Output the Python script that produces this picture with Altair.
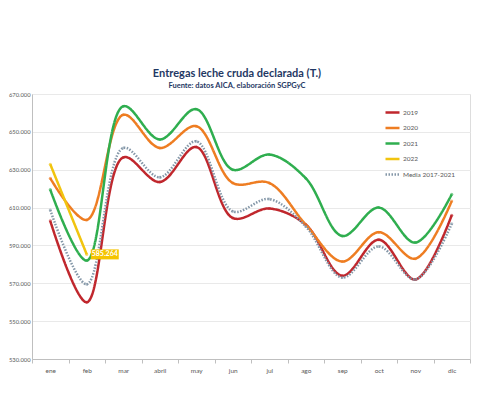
import altair as alt
import pandas as pd

meses = ["ene", "feb", "mar", "abril", "may", "jun", "jul", "ago", "sep", "oct", "nov", "dic"]
series = ["2019", "2020", "2021", "2022", "Media 2017-2021"]
colores = ["#c0272d", "#ee7d22", "#2fae4f", "#f1c40f", "#8497a8"]

v2019 = [603, 560, 636.5, 623.5, 642, 604.5, 609.5, 601, 574, 593, 572, 606]
v2020 = [625.5, 603.5, 659, 641.5, 653, 623, 623, 601, 581.5, 597, 583, 613.5]
v2021 = [619.5, 582, 663.5, 646, 662, 630, 638, 625.5, 595, 610, 591.5, 617]
v2022 = [632.9, 585.264]
vmedia = [608.7, 569.5, 641.5, 626, 645, 608, 614.5, 600, 573, 589.5, 572, 601.5]

etiqueta_mes = "feb"
etiqueta_valor = 585.264
etiqueta_texto = "585.264"

rows = []
for serie, vals in zip(series, [v2019, v2020, v2021, v2022, vmedia]):
    for m, v in zip(meses, vals):
        rows.append({"mes": m, "valor": v, "serie": serie})
df = pd.DataFrame(rows)
df_lab = pd.DataFrame([{"mes": etiqueta_mes, "valor": etiqueta_valor, "txt": etiqueta_texto}])

x_enc = alt.X(
    "mes:O",
    sort=meses,
    scale=alt.Scale(type="band", paddingInner=0, paddingOuter=0, domain=meses),
    bandPosition=0.5,
    axis=alt.Axis(
        title=None, tickBand="extent", labelAngle=0, labelFontSize=6.5,
        labelColor="#595959", domainColor="#bfbfbf", tickColor="#bfbfbf",
        tickSize=4, labelPadding=4, grid=False,
    ),
)
y_enc = alt.Y(
    "valor:Q",
    scale=alt.Scale(domain=[530, 670], nice=False, zero=False),
    axis=alt.Axis(
        title=None, values=list(range(530, 671, 20)),
        labelExpr="datum.value + '.000'", labelFontSize=5.8, labelColor="#595959",
        domainColor="#bfbfbf", ticks=False, gridColor="#e9e9e9", labelPadding=2,
    ),
)

leg = alt.Legend(
    title=None, orient="none", legendX=352, legendY=10, symbolType="stroke",
    symbolSize=196, symbolStrokeWidth=2.5, labelFontSize=6.5, labelColor="#595959",
    rowPadding=1.5, labelOffset=2,
)

lines = alt.Chart(df).mark_line(interpolate="catmull-rom").encode(
    x=x_enc,
    y=y_enc,
    color=alt.Color("serie:N", scale=alt.Scale(domain=series, range=colores), legend=leg),
    strokeDash=alt.StrokeDash(
        "serie:N",
        scale=alt.Scale(domain=series, range=[[1, 0], [1, 0], [1, 0], [1, 0], [1.5, 1.5]]),
        legend=leg,
    ),
    strokeWidth=alt.StrokeWidth(
        "serie:N", scale=alt.Scale(domain=series, range=[2.5, 2.5, 2.5, 2.5, 2]), legend=None
    ),
)

points = alt.Chart(df).mark_point(filled=True, size=9, opacity=0.6).encode(
    x=x_enc, y=y_enc,
    color=alt.Color("serie:N", scale=alt.Scale(domain=series, range=["#e88a8d", "#f7b27a", "#8fd6a0", "#f7dc6f", "#b8c4cf"]), legend=None),
)

box = alt.Chart(df_lab).mark_point(
    shape="M-1.4,-0.5L1.4,-0.5L1.4,0.5L-1.4,0.5Z", size=400, filled=True,
    color="#f5c400", opacity=1, xOffset=18,
).encode(x=x_enc, y=y_enc)

txt = alt.Chart(df_lab).mark_text(
    color="white", fontWeight="bold", fontSize=7, xOffset=18, align="center", baseline="middle",
).encode(x=x_enc, y=y_enc, text="txt:N")

chart = alt.layer(lines, points, box, txt).properties(
    width=438, height=265,
    title=alt.TitleParams(
        text="Entregas leche cruda declarada (T.)",
        subtitle="Fuente: datos AICA, elaboración SGPGyC",
        fontSize=11, fontWeight="bold", color="#1f3864",
        subtitleFontSize=7.5, subtitleFontWeight="bold", subtitleColor="#1f3864",
        anchor="middle", dx=-14, offset=2, subtitlePadding=3,
    ),
    autosize=alt.AutoSizeParams(type="none"),
    padding={"left": 24, "top": 86, "right": 5, "bottom": 30},
).configure_view(stroke=None).configure(font="Lato")

chart.save("out.html", embed_options={"renderer": "svg", "actions": False})
